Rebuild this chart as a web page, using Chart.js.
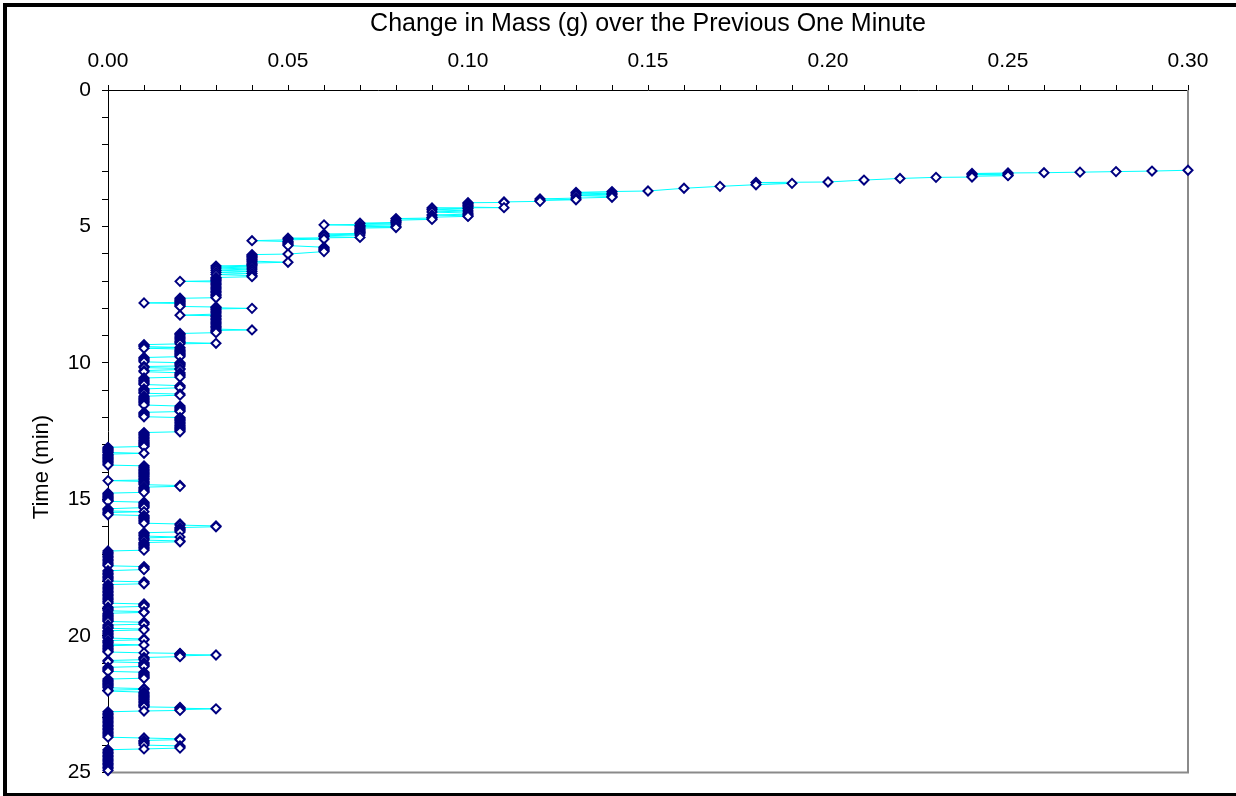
<!DOCTYPE html>
<html>
<head>
<meta charset="utf-8">
<script src="https://cdn.jsdelivr.net/npm/chart.js@4.4.1/dist/chart.umd.min.js"></script>
<style>
  html, body { margin: 0; padding: 0; background: #fff; }
  #wrap { position: relative; width: 1236px; height: 796px; }
</style>
</head>
<body>
<div id="wrap"><canvas id="chart" width="1236" height="796"></canvas></div>
<script>
// Elapsed time of each balance reading (min)
const minutes = [
  2.94, 2.97, 2.99, 3.01, 3.03, 3.04, 3.06, 3.08, 3.10, 3.12, 3.14, 3.16, 3.19, 3.20, 3.24, 3.30, 3.37, 3.39, 3.42, 3.47, 3.53, 3.60, 3.70,
  3.72, 3.75, 3.78, 3.81, 3.84, 3.87, 3.90, 3.93, 3.96, 3.99,
  4.02, 4.05, 4.08, 4.10, 4.12, 4.13, 4.17, 4.21, 4.25, 4.29,
  4.31, 4.32, 4.35, 4.39, 4.43, 4.47, 4.51, 4.55, 4.58, 4.61,
  4.63, 4.66, 4.69, 4.71, 4.74, 4.77, 4.81, 4.85, 4.88, 4.91,
  4.94, 4.96, 4.99, 5.01, 5.04, 5.06, 5.10, 5.14, 5.18, 5.22,
  5.25, 5.28, 5.31, 5.34, 5.37, 5.40, 5.43, 5.46, 5.49, 5.52,
  5.55, 5.59, 5.63, 5.67, 5.70, 5.76, 5.80, 5.84, 5.88, 5.92,
  6.01, 6.03, 6.07, 6.11, 6.15, 6.19, 6.23, 6.27, 6.31, 6.34,
  6.38, 6.42, 6.45, 6.48, 6.52, 6.56, 6.60, 6.64, 6.68, 6.72,
  6.76, 6.80, 6.84, 6.87, 6.91, 6.95, 6.99, 7.01, 7.03, 7.08,
  7.13, 7.18, 7.23, 7.28, 7.33, 7.38, 7.43, 7.48, 7.53, 7.58,
  7.61, 7.63, 7.67, 7.71, 7.75, 7.78, 7.80, 7.82, 7.86, 7.90,
  7.93, 7.95, 7.98, 8.00, 8.02, 8.06, 8.11, 8.16, 8.21, 8.25,
  8.27, 8.31, 8.36, 8.41, 8.46, 8.51, 8.56, 8.61, 8.66, 8.71,
  8.76, 8.79, 8.81, 8.85, 8.89, 8.92, 8.96, 9.01, 9.06, 9.11,
  9.16, 9.21, 9.25, 9.28, 9.30, 9.33, 9.37, 9.40, 9.43, 9.46,
  9.49, 9.53, 9.57, 9.61, 9.65, 9.69, 9.73, 9.77, 9.80, 9.84,
  9.88, 9.92, 9.96, 9.99, 10.03, 10.07, 10.11, 10.13, 10.17, 10.20,
  10.24, 10.28, 10.32, 10.36, 10.40, 10.44, 10.48, 10.52, 10.55, 10.59,
  10.63, 10.67, 10.71, 10.75, 10.79, 10.83, 10.87, 10.91, 10.95, 10.99,
  11.03, 11.07, 11.11, 11.14, 11.18, 11.22, 11.26, 11.30, 11.34, 11.38,
  11.42, 11.46, 11.50, 11.54, 11.58, 11.62, 11.66, 11.70, 11.74, 11.78,
  11.81, 11.85, 11.89, 11.93, 11.97, 12.00, 12.04, 12.08, 12.12, 12.16,
  12.20, 12.24, 12.28, 12.32, 12.36, 12.40, 12.44, 12.48, 12.52, 12.55,
  12.59, 12.63, 12.67, 12.71, 12.75, 12.79, 12.83, 12.87, 12.91, 12.95,
  12.99, 13.03, 13.06, 13.09, 13.13, 13.17, 13.21, 13.25, 13.28, 13.31,
  13.34, 13.38, 13.42, 13.46, 13.50, 13.54, 13.58, 13.62, 13.66, 13.70,
  13.74, 13.77, 13.81, 13.85, 13.89, 13.93, 13.97, 14.01, 14.05, 14.09,
  14.13, 14.17, 14.21, 14.25, 14.29, 14.31, 14.34, 14.38, 14.42, 14.46,
  14.49, 14.52, 14.55, 14.59, 14.63, 14.67, 14.71, 14.74, 14.77, 14.81,
  14.85, 14.89, 14.93, 14.97, 15.01, 15.04, 15.07, 15.10, 15.14, 15.18,
  15.22, 15.26, 15.30, 15.34, 15.38, 15.42, 15.45, 15.48, 15.52, 15.56,
  15.59, 15.63, 15.67, 15.71, 15.75, 15.79, 15.83, 15.87, 15.90, 15.94,
  15.97, 16.00, 16.03, 16.07, 16.11, 16.15, 16.19, 16.22, 16.26, 16.30,
  16.34, 16.38, 16.41, 16.45, 16.49, 16.52, 16.55, 16.58, 16.62, 16.66,
  16.70, 16.74, 16.78, 16.82, 16.86, 16.89, 16.94, 16.99, 17.04, 17.09,
  17.14, 17.19, 17.24, 17.29, 17.34, 17.39, 17.43, 17.46, 17.50, 17.54,
  17.57, 17.61, 17.66, 17.71, 17.76, 17.81, 17.86, 17.91, 17.95, 17.99,
  18.02, 18.06, 18.09, 18.12, 18.17, 18.22, 18.27, 18.32, 18.37, 18.42,
  18.47, 18.52, 18.57, 18.62, 18.67, 18.72, 18.76, 18.80, 18.83, 18.86,
  18.89, 18.92, 18.95, 18.99, 19.03, 19.08, 19.11, 19.14, 19.17, 19.21,
  19.25, 19.29, 19.33, 19.37, 19.41, 19.44, 19.47, 19.50, 19.53, 19.57,
  19.60, 19.64, 19.68, 19.72, 19.75, 19.78, 19.81, 19.85, 19.89, 19.93,
  19.97, 20.01, 20.05, 20.08, 20.11, 20.14, 20.17, 20.21, 20.25, 20.30,
  20.33, 20.36, 20.40, 20.44, 20.48, 20.52, 20.56, 20.59, 20.62, 20.64,
  20.66, 20.68, 20.70, 20.73, 20.76, 20.79, 20.83, 20.87, 20.90, 20.95,
  20.98, 21.02, 21.06, 21.09, 21.12, 21.15, 21.19, 21.23, 21.27, 21.30,
  21.33, 21.37, 21.41, 21.45, 21.49, 21.52, 21.55, 21.58, 21.62, 21.66,
  21.70, 21.74, 21.78, 21.82, 21.86, 21.90, 21.93, 21.96, 21.99, 22.02,
  22.06, 22.10, 22.14, 22.18, 22.22, 22.26, 22.30, 22.34, 22.38, 22.42,
  22.46, 22.50, 22.54, 22.57, 22.60, 22.62, 22.65, 22.67, 22.70, 22.73,
  22.75, 22.78, 22.83, 22.88, 22.93, 22.98, 23.03, 23.08, 23.13, 23.18,
  23.23, 23.28, 23.33, 23.38, 23.43, 23.48, 23.53, 23.58, 23.63, 23.67,
  23.71, 23.74, 23.77, 23.80, 23.83, 23.87, 23.91, 23.95, 24.00, 24.03,
  24.07, 24.11, 24.14, 24.17, 24.22, 24.27, 24.32, 24.37, 24.42, 24.47,
  24.52, 24.57, 24.62, 24.67, 24.72, 24.77, 24.82, 24.87, 24.93
];

// Change in mass over the preceding minute at each reading (g)
const massChange = [
  0.30, 0.29, 0.28, 0.27, 0.26, 0.25, 0.24, 0.25, 0.24, 0.25, 0.25, 0.24, 0.24, 0.23, 0.22, 0.21, 0.20, 0.18, 0.19, 0.18, 0.17, 0.16, 0.15,
  0.14, 0.13, 0.14, 0.13, 0.14, 0.13, 0.14, 0.14, 0.13, 0.12,
  0.13, 0.12, 0.12, 0.11, 0.11, 0.10, 0.10, 0.10, 0.10, 0.10,
  0.11, 0.09, 0.10, 0.09, 0.10, 0.09, 0.10, 0.10, 0.09, 0.10,
  0.10, 0.09, 0.09, 0.08, 0.09, 0.08, 0.08, 0.08, 0.07, 0.08,
  0.06, 0.07, 0.08, 0.07, 0.08, 0.07, 0.07, 0.07, 0.07, 0.07,
  0.07, 0.06, 0.07, 0.06, 0.06, 0.07, 0.05, 0.06, 0.05, 0.04,
  0.05, 0.05, 0.05, 0.05, 0.05, 0.06, 0.06, 0.06, 0.06, 0.06,
  0.05, 0.04, 0.04, 0.04, 0.04, 0.04, 0.04, 0.04, 0.05, 0.04,
  0.04, 0.04, 0.03, 0.04, 0.03, 0.04, 0.03, 0.04, 0.03, 0.04,
  0.03, 0.04, 0.04, 0.03, 0.03, 0.03, 0.03, 0.02, 0.03, 0.03,
  0.03, 0.03, 0.03, 0.03, 0.03, 0.03, 0.03, 0.03, 0.03, 0.03,
  0.03, 0.02, 0.02, 0.02, 0.02, 0.02, 0.01, 0.02, 0.02, 0.02,
  0.02, 0.03, 0.03, 0.04, 0.03, 0.03, 0.03, 0.03, 0.03, 0.02,
  0.03, 0.03, 0.03, 0.03, 0.03, 0.03, 0.03, 0.03, 0.03, 0.03,
  0.03, 0.04, 0.03, 0.03, 0.03, 0.02, 0.02, 0.02, 0.02, 0.02,
  0.02, 0.02, 0.02, 0.03, 0.02, 0.01, 0.01, 0.01, 0.02, 0.01,
  0.02, 0.02, 0.02, 0.02, 0.02, 0.02, 0.02, 0.02, 0.01, 0.01,
  0.01, 0.01, 0.01, 0.02, 0.02, 0.02, 0.02, 0.01, 0.01, 0.02,
  0.02, 0.01, 0.01, 0.02, 0.02, 0.02, 0.02, 0.02, 0.01, 0.01,
  0.01, 0.01, 0.01, 0.01, 0.01, 0.02, 0.02, 0.02, 0.01, 0.01,
  0.01, 0.01, 0.01, 0.02, 0.02, 0.01, 0.01, 0.01, 0.01, 0.01,
  0.01, 0.01, 0.01, 0.01, 0.02, 0.02, 0.02, 0.02, 0.02, 0.02,
  0.01, 0.01, 0.01, 0.01, 0.01, 0.02, 0.02, 0.02, 0.02, 0.02,
  0.02, 0.02, 0.02, 0.02, 0.02, 0.02, 0.02, 0.02, 0.02, 0.01,
  0.01, 0.01, 0.01, 0.01, 0.01, 0.01, 0.01, 0.01, 0.01, 0.01,
  0.01, 0.01, 0.01, 0.00, 0.00, 0.00, 0.00, 0.00, 0.00, 0.01,
  0.00, 0.00, 0.00, 0.00, 0.00, 0.00, 0.00, 0.00, 0.00, 0.00,
  0.00, 0.01, 0.01, 0.01, 0.01, 0.01, 0.01, 0.01, 0.01, 0.01,
  0.01, 0.01, 0.01, 0.01, 0.01, 0.00, 0.01, 0.01, 0.01, 0.01,
  0.02, 0.02, 0.01, 0.01, 0.01, 0.01, 0.01, 0.01, 0.00, 0.00,
  0.00, 0.00, 0.00, 0.00, 0.00, 0.00, 0.00, 0.01, 0.01, 0.01,
  0.01, 0.01, 0.01, 0.00, 0.00, 0.00, 0.01, 0.00, 0.00, 0.00,
  0.01, 0.01, 0.01, 0.01, 0.01, 0.01, 0.01, 0.01, 0.02, 0.02,
  0.03, 0.03, 0.02, 0.02, 0.02, 0.02, 0.02, 0.01, 0.01, 0.01,
  0.01, 0.02, 0.01, 0.01, 0.01, 0.02, 0.02, 0.01, 0.01, 0.01,
  0.01, 0.01, 0.01, 0.01, 0.01, 0.00, 0.00, 0.00, 0.00, 0.00,
  0.00, 0.00, 0.00, 0.00, 0.00, 0.00, 0.00, 0.01, 0.01, 0.01,
  0.01, 0.00, 0.00, 0.00, 0.00, 0.00, 0.00, 0.00, 0.00, 0.00,
  0.01, 0.01, 0.01, 0.00, 0.00, 0.00, 0.00, 0.00, 0.00, 0.00,
  0.00, 0.00, 0.00, 0.00, 0.00, 0.00, 0.00, 0.00, 0.01, 0.01,
  0.01, 0.01, 0.00, 0.00, 0.00, 0.00, 0.01, 0.01, 0.00, 0.00,
  0.00, 0.00, 0.00, 0.00, 0.00, 0.00, 0.00, 0.01, 0.01, 0.01,
  0.00, 0.00, 0.00, 0.00, 0.01, 0.01, 0.00, 0.00, 0.00, 0.00,
  0.00, 0.00, 0.00, 0.00, 0.01, 0.01, 0.00, 0.00, 0.00, 0.00,
  0.01, 0.00, 0.00, 0.00, 0.00, 0.00, 0.00, 0.00, 0.01, 0.02,
  0.02, 0.02, 0.03, 0.02, 0.02, 0.01, 0.01, 0.01, 0.00, 0.00,
  0.01, 0.01, 0.01, 0.01, 0.01, 0.00, 0.00, 0.00, 0.00, 0.00,
  0.01, 0.01, 0.01, 0.01, 0.01, 0.01, 0.01, 0.00, 0.00, 0.00,
  0.00, 0.00, 0.00, 0.00, 0.00, 0.00, 0.01, 0.01, 0.00, 0.00,
  0.01, 0.01, 0.01, 0.01, 0.01, 0.01, 0.01, 0.01, 0.01, 0.01,
  0.01, 0.01, 0.01, 0.01, 0.01, 0.02, 0.02, 0.03, 0.02, 0.02,
  0.01, 0.00, 0.00, 0.00, 0.00, 0.00, 0.00, 0.00, 0.00, 0.00,
  0.00, 0.00, 0.00, 0.00, 0.00, 0.00, 0.00, 0.00, 0.00, 0.00,
  0.00, 0.01, 0.02, 0.02, 0.01, 0.01, 0.01, 0.01, 0.01, 0.02,
  0.02, 0.02, 0.01, 0.00, 0.00, 0.00, 0.00, 0.00, 0.00, 0.00,
  0.00, 0.00, 0.00, 0.00, 0.00, 0.00, 0.00, 0.00, 0.00
];

// Axis ranges and labelled tick spacing
const xRange = [0, 0.30];
const xLabelEvery = 0.05;
const yRange = [0, 25];
const yLabelEvery = 5;

const xTitle = 'Change in Mass (g) over the Previous One Minute';
const yTitle = 'Time (min)';

const FONT = '"Liberation Sans", Arial, Helvetica, sans-serif';

// Outer black frame, white background and the grey right/bottom plot edges
const framePlugin = {
  id: 'frame',
  beforeDraw(chart) {
    const ctx = chart.ctx;
    ctx.save();
    ctx.fillStyle = '#ffffff';
    ctx.fillRect(0, 0, chart.width, chart.height);
    ctx.fillStyle = '#000000';
    ctx.fillRect(3, 3, 4, chart.height - 3);
    ctx.fillRect(3, 3, chart.width - 3, 4);
    ctx.fillRect(3, chart.height - 3, chart.width - 3, 3);
    ctx.restore();
  },
  beforeDatasetsDraw(chart) {
    const { ctx, chartArea: a } = chart;
    ctx.save();
    ctx.strokeStyle = '#8a8a8a';
    ctx.lineWidth = 2;
    ctx.beginPath();
    ctx.moveTo(a.right, a.top);
    ctx.lineTo(a.right, a.bottom);
    ctx.lineTo(a.left, a.bottom);
    ctx.stroke();
    ctx.restore();
  },
  afterDraw(chart) {
    const ctx = chart.ctx;
    ctx.save();
    ctx.translate(42, 467);
    ctx.rotate(-Math.PI / 2);
    ctx.font = '22px ' + FONT;
    ctx.fillStyle = '#000';
    ctx.textAlign = 'center';
    ctx.textBaseline = 'middle';
    ctx.fillText(yTitle, 0, 0);
    ctx.restore();
  }
};

const points = minutes.map((t, i) => ({ x: massChange[i], y: t }));

new Chart(document.getElementById('chart'), {
  type: 'scatter',
  data: {
    datasets: [{
      data: points,
      showLine: true,
      borderColor: '#00ffff',
      borderWidth: 1,
      pointStyle: 'rectRot',
      pointRadius: 4.5,
      pointBorderWidth: 2,
      pointBorderColor: '#000080',
      pointBackgroundColor: '#ffffff',
      clip: false
    }]
  },
  options: {
    responsive: false,
    animation: false,
    devicePixelRatio: 1,
    events: [],
    layout: { padding: { left: 0, top: 0, right: 48, bottom: 22 } },
    plugins: { legend: { display: false }, tooltip: { enabled: false } },
    scales: {
      x: {
        type: 'linear',
        position: 'top',
        min: xRange[0],
        max: xRange[1],
        afterFit(scale) { scale.height = 90; },
        ticks: {
          stepSize: 0.01,
          autoSkip: false,
          maxRotation: 0,
          padding: 11,
          color: '#000',
          font: { family: FONT, size: 21 },
          callback(v) {
            const h = Math.round(v * 100);
            return h % Math.round(xLabelEvery * 100) === 0 ? (h / 100).toFixed(2) : '';
          }
        },
        grid: { drawOnChartArea: false, drawTicks: true, tickLength: 5, color: '#000', lineWidth: 1 },
        border: { display: true, color: '#000', width: 1 },
        title: {
          display: true,
          text: xTitle,
          color: '#000',
          font: { family: FONT, size: 25 },
          padding: { top: 9, bottom: 0 }
        }
      },
      y: {
        type: 'linear',
        reverse: true,
        min: yRange[0],
        max: yRange[1],
        afterFit(scale) { scale.width = 108; },
        ticks: {
          stepSize: 1,
          autoSkip: false,
          padding: 11,
          color: '#000',
          font: { family: FONT, size: 21 },
          callback(v) { return v % yLabelEvery === 0 ? String(v) : ''; }
        },
        grid: { drawOnChartArea: false, drawTicks: true, tickLength: 6, color: '#000', lineWidth: 1 },
        border: { display: true, color: '#000', width: 1 }
      }
    }
  },
  plugins: [framePlugin]
});
</script>
</body>
</html>
